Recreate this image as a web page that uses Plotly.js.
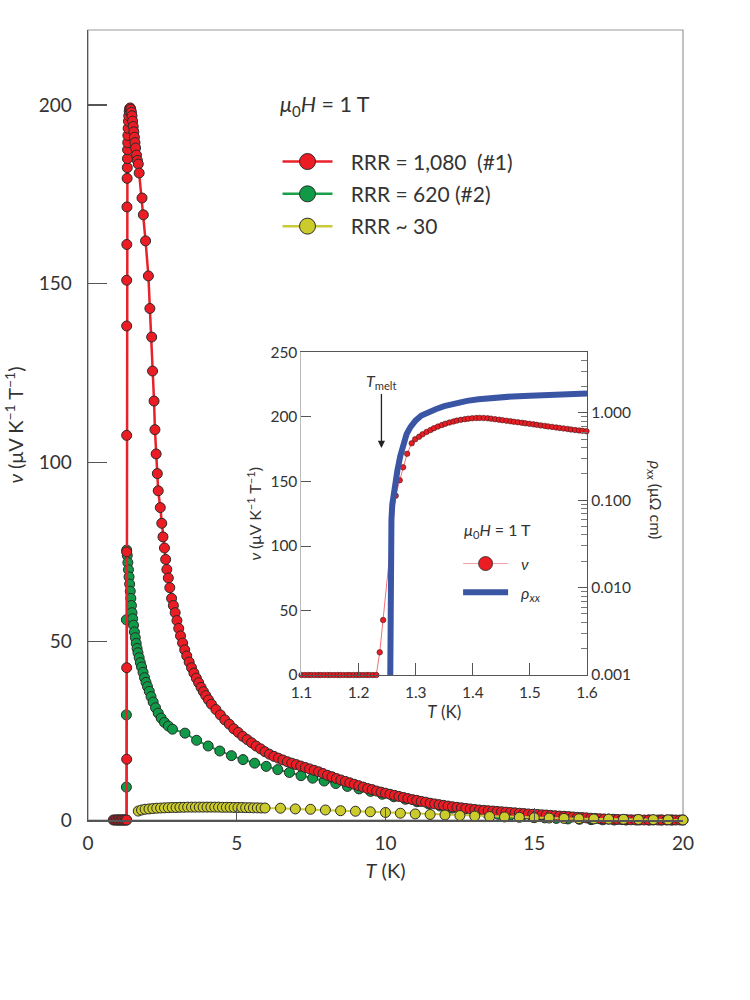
<!DOCTYPE html>
<html>
<head>
<meta charset="utf-8">
<script src="https://cdn.plot.ly/plotly-3.0.1.min.js"></script>
<style>html,body{margin:0;padding:0;background:#fff;}#chart{width:750px;height:1000px;}</style>
</head>
<body>
<div id="chart"></div>
<script>
// ---------- main panel: RRR = 1,080 (#1) ----------
const redT = [0.85,0.90,0.95,1.00,1.05,1.10,1.15,1.20,1.25,1.30,
  1.30,1.30,1.30,1.30,1.30,1.30,
  1.305,1.31,1.315,1.32,1.325,1.33,1.335,1.34,1.35,1.36,1.37,1.385,1.40,1.42,1.44,1.46,1.48,1.50,1.52,1.54,1.56,1.58,1.60,1.63,1.66,1.69,1.72,1.815,1.86,1.935,
  2.03,2.08,2.14,2.17,2.22,2.25,2.29,2.33,2.36,2.43,2.48,2.52,2.57,2.61,2.65,2.70,2.75,2.81,2.87,2.93,2.99,3.05,3.11,3.18,3.25,3.32,3.40,3.48,3.56,3.64,3.72,3.80,3.88,3.96,4.05,4.15,4.30,
  4.45,4.60,4.75,4.90,5.05,5.20,5.35,5.50,5.65,5.80,
  5.95,6.10,6.25,6.40,6.55,6.70,6.85,7.00,7.15,7.30,
  7.45,7.60,7.75,7.90,8.05,8.20,8.35,8.50,8.65,8.80,
  8.95,9.10,9.25,9.40,9.55,9.70,9.85,10.00,10.15,10.30,
  10.45,10.60,10.75,10.90,11.05,11.20,11.35,11.50,11.65,11.80,
  11.95,12.10,12.25,12.40,12.55,12.70,12.85,13.00,13.15,13.30,
  13.45,13.60,13.75,13.90,14.05,14.20,14.35,14.50,14.65,14.80,
  14.95,15.10,15.25,15.40,15.55,15.70,15.85,16.00,16.15,16.30,
  16.45,16.60,16.75,16.90,17.05,17.20,17.35,17.50,17.65,17.80,
  17.95,18.10,18.25,18.40,18.55,18.70,18.85,19.00,19.15,19.30,
  19.45,19.60,19.75,19.90,20.00];
const redV = [0,0,0,0,0,0,0,0,0,0,
  17,42.6,75,107.6,138.2,151,
  161,171.5,179.5,182.5,185,187.5,189.5,191.5,193.5,195.5,197,198.3,199,199.2,198.8,198,197,195.5,194,192.5,191,189.5,188,186,184.5,183.5,181,174,169.3,162,
  152.2,143.1,135.1,125.6,117.2,109.2,102.4,96.9,92.1,87.4,83,79.2,76.1,72.9,70.1,67.7,65,62,60,58,55.8,53.6,51.5,49.5,47.6,45.9,44.2,42.6,41.1,39.7,38.4,37.1,35.9,34.8,33.6,32.4,30.9,
  29.4,28.0,26.8,25.5,24.5,23.4,22.5,21.6,20.7,19.9,
  19.1,18.4,17.8,17.3,16.8,16.3,15.9,15.5,15.1,14.7,
  14.3,13.9,13.5,13.0,12.5,12.1,11.6,11.2,10.8,10.4,
  10.0,9.6,9.2,8.8,8.5,8.1,7.8,7.5,7.2,6.9,
  6.6,6.3,6.0,5.7,5.5,5.2,5.0,4.7,4.5,4.3,
  4.1,3.9,3.7,3.55,3.4,3.25,3.1,2.95,2.8,2.7,
  2.6,2.5,2.4,2.3,2.2,2.1,2.0,1.9,1.8,1.7,
  1.6,1.55,1.45,1.4,1.3,1.2,1.1,1.05,0.95,0.85,
  0.75,0.7,0.6,0.5,0.45,0.35,0.3,0.25,0.2,0.15,
  0.1,0.08,0.05,0.03,0.02,0,0,0,0,0,
  0,0,0,0,0];

// ---------- main panel: RRR = 620 (#2) ----------
const greenT = [1.00,1.10,1.20,1.29,1.29,1.29,1.29,1.30,
  1.32,1.34,1.36,1.38,1.40,1.42,1.44,1.46,1.48,1.50,
  1.53,1.56,1.59,1.62,1.65,1.68,1.72,1.76,1.80,1.85,1.90,1.95,2.00,
  2.06,2.12,2.19,2.27,2.36,2.46,2.57,2.70,2.84,
  3.26,3.65,4.04,4.43,4.82,5.21,5.60,5.99,6.38,6.77,
  7.16,7.55,7.94,8.33,8.72,9.11,9.50,9.89,10.28,10.67,
  11.06,11.45,11.84,12.23,12.62,13.01,13.40,13.79,14.18,14.57,
  14.96,15.35,15.74,16.13,16.52,16.91,17.30,17.69,18.08,18.47,
  18.86,19.25,19.64];
const greenV = [0,0,0,0,9.2,29.4,56,75.5,
  74,72,70,68,66,64,62,60,58,56.3,
  54.5,52.6,51,49.4,48,46.8,45.4,44,42.8,41.3,39.8,38.5,37.3,
  36,34.5,33,31.4,29.9,28.5,27.3,26.3,25.4,
  24.3,22.3,20.7,19.3,18.0,16.9,15.9,15.0,14.1,13.3,
  12.4,11.7,10.9,10.2,9.4,8.7,8.0,7.2,6.5,5.8,
  5.1,4.5,3.9,3.3,2.8,2.3,1.9,1.6,1.3,1.05,
  0.8,0.6,0.45,0.3,0.2,0.1,0.05,0,0,0,
  0,0,0];

// ---------- main panel: RRR ~ 30 ----------
const yellowT = [1.69,1.80,1.92,
  2.05,2.18,2.31,2.44,2.57,2.70,2.83,2.96,3.09,3.22,
  3.35,3.48,3.61,3.74,3.87,4.00,4.13,4.26,4.39,4.52,
  4.65,4.78,4.91,5.04,5.17,5.30,5.43,5.56,5.69,5.82,5.95,
  6.47,6.97,7.48,7.98,8.49,8.99,9.49,
  10.0,10.5,11.0,11.5,12.0,12.5,13.0,13.5,14.0,14.5,15.0,15.5,16.0,16.5,17.0,17.5,18.0,18.5,19.0,19.5,20.0];
const yellowV = [2.5,2.8,3.0,
  3.1,3.2,3.3,3.35,3.4,3.45,3.5,3.5,3.55,3.55,
  3.6,3.6,3.6,3.6,3.6,3.6,3.6,3.6,3.6,3.55,
  3.55,3.55,3.5,3.5,3.5,3.45,3.45,3.4,3.4,3.35,3.35,
  3.3,3.1,3.0,2.8,2.6,2.45,2.3,
  2.1,1.9,1.7,1.55,1.4,1.25,1.1,0.95,0.85,0.75,0.65,0.55,0.45,0.35,0.3,0.25,0.2,0.15,0.1,0.05,0.0];

// ---------- inset: nu (#1) ----------
const insetT = [1.100,1.106,1.112,1.117,1.123,1.129,1.134,1.140,1.146,1.151,1.157,1.163,1.168,1.174,1.180,1.185,1.191,1.197,1.202,1.208,1.214,1.219,1.225,1.231,
  1.237,1.243,1.265,1.272,1.278,1.285,1.293,
  1.299,1.306,1.312,1.319,1.326,1.332,1.339,1.346,1.352,1.359,
  1.366,1.372,1.379,1.386,1.392,1.399,1.406,1.412,1.419,1.426,
  1.432,1.439,1.446,1.452,1.459,1.466,1.472,1.479,1.486,1.492,
  1.499,1.506,1.512,1.519,1.526,1.532,1.539,1.546,1.552,1.559,
  1.566,1.572,1.579,1.586,1.592,1.599];
const insetNu = [0,0,0,0,0,0,0,0,0,0,0,0,0,0,0,0,0,0,0,0,0,0,0,0,
  17.6,42.6,139,151,161,171.5,179.6,
  182.7,184.7,186.6,188.4,189.9,191.3,192.6,193.8,194.8,195.7,
  196.5,197.2,197.8,198.3,198.7,199.0,199.2,199.3,199.2,199.0,
  198.7,198.3,197.9,197.5,197.1,196.7,196.3,195.9,195.5,195.1,
  194.7,194.3,193.9,193.5,193.1,192.7,192.3,191.9,191.5,191.1,
  190.7,190.3,189.9,189.6,189.3,189.0];

// ---------- inset: rho_xx ----------
const rhoT = [1.2555,1.2555,1.256,1.2565,1.2575,1.259,1.261,1.264,1.268,1.273,1.278,1.284,1.291,1.300,1.310,1.320,1.335,1.350,1.370,1.390,1.410,1.440,1.470,1.500,1.550,1.600];
const rhoV = [0.001,0.002,0.01,0.03,0.06,0.09,0.115,0.15,0.22,0.32,0.45,0.57,0.69,0.82,0.93,1.01,1.10,1.19,1.29,1.37,1.43,1.50,1.54,1.57,1.62,1.66];

// ---------- tick labels ----------
const mainXTicks = [0,5,10,15,20];
const mainYTicks = [0,50,100,150,200];
const insetXTicks = [1.1,1.2,1.3,1.4,1.5,1.6];
const insetXLabels = ['1.1','1.2','1.3','1.4','1.5','1.6'];
const insetYTicks = [0,50,100,150,200,250];
const rhoTicks = [0.001,0.01,0.1,1];
const rhoLabels = ['0.001','0.010','0.100','1.000'];
const rhoMinor = [0.002,0.003,0.004,0.005,0.006,0.007,0.008,0.009,0.02,0.03,0.04,0.05,0.06,0.07,0.08,0.09,0.2,0.3,0.4,0.5,0.6,0.7,0.8,0.9,2,3,4];
const GAP = '\u2002\u2009';
const seriesNames = ['RRR = 1,080\u2002(#1)','RRR = 620 (#2)','RRR ~ 30'];
const insetNames = ['<i>ν</i>','<i>ρ</i><sub><i>xx</i></sub>'];

const FONT = 'Lato, "Open Sans", "DejaVu Sans", sans-serif';
const RED = '#ec1c24', REDLINE = '#e8222a';
const GREEN = '#109a48', GREENLINE = '#1b9d4b';
const YEL = '#cbcb2c', YELLINE = '#c9c93a';
const BLUE = '#3b55a5';
const EDGE = '#2a2a2a';

function mainTrace(x, y, fill, lc, lw) {
  return {x: x, y: y, type: 'scatter', mode: 'lines+markers', xaxis: 'x', yaxis: 'y',
    cliponaxis: false, showlegend: false, hoverinfo: 'skip',
    line: {color: lc, width: lw},
    marker: {size: 10, color: fill, line: {color: EDGE, width: 1}}};
}
function proxy(name, fill, lc, grp) {
  return {x: [null], y: [null], type: 'scatter', mode: 'lines+markers', name: GAP + name,
    legend: 'legend', legendgroup: grp, xaxis: 'x', yaxis: 'y',
    line: {color: lc, width: 2.5}, marker: {size: 16, color: fill, line: {color: EDGE, width: 1}}};
}

const data = [
  mainTrace(greenT, greenV, GREEN, GREENLINE, 2),
  mainTrace(redT, redV, RED, REDLINE, 2.5),
  mainTrace(yellowT, yellowV, YEL, YELLINE, 2),
  {x: insetT, y: insetNu, type: 'scatter', mode: 'lines+markers', xaxis: 'x2', yaxis: 'y2',
    cliponaxis: false, showlegend: false, hoverinfo: 'skip',
    line: {color: '#f0606a', width: 0.9},
    marker: {size: 5.5, color: RED, line: {color: '#3a1a1a', width: 0.6}}},
  {x: rhoT, y: rhoV, type: 'scatter', mode: 'lines', xaxis: 'x2', yaxis: 'y3',
    showlegend: false, hoverinfo: 'skip', line: {color: BLUE, width: 6}},
  proxy(seriesNames[0], RED, REDLINE, 'a'),
  proxy(seriesNames[1], GREEN, GREENLINE, 'b'),
  proxy(seriesNames[2], YEL, YELLINE, 'c'),
  {x: [null], y: [null], type: 'scatter', mode: 'lines+markers', name: '\u2002' + insetNames[0],
    legend: 'legend2', legendgroup: 'd', xaxis: 'x2', yaxis: 'y2',
    line: {color: '#f4a0a4', width: 1}, marker: {size: 14, color: RED, line: {color: EDGE, width: 0.8}}},
  {x: [null], y: [null], type: 'scatter', mode: 'lines', name: '\u2002' + insetNames[1],
    legend: 'legend2', legendgroup: 'e', xaxis: 'x2', yaxis: 'y3',
    line: {color: BLUE, width: 6}}
];

const axisCommon = {showgrid: false, zeroline: false, showline: true, ticks: 'inside', tickcolor: '#555'};

const layout = {
  width: 750, height: 1000,
  margin: {l: 88, r: 67, t: 30, b: 180},
  paper_bgcolor: '#ffffff', plot_bgcolor: 'rgba(0,0,0,0)',
  font: {family: FONT, color: '#333', size: 18},
  showlegend: true,
  xaxis: Object.assign({}, axisCommon, {domain: [0, 1], anchor: 'y', range: [0, 20],
    tickvals: mainXTicks, ticklen: 12, tickwidth: 1.2, linecolor: '#555', linewidth: 1.5,
    tickfont: {size: 19}, ticklabelstandoff: 6,
    title: {text: '<i>T</i> (K)', font: {size: 20}, standoff: 10}}),
  yaxis: Object.assign({}, axisCommon, {domain: [0, 1], anchor: 'x', range: [0, 221],
    tickvals: mainYTicks, ticklen: 19, tickwidth: 1.2, linecolor: '#555', linewidth: 1.5,
    tickfont: {size: 19}, ticklabelstandoff: 11,
    title: {text: '<i>ν</i> (μV K<sup>−1</sup> T<sup>−1</sup>)', font: {size: 20}, standoff: 9}}),
  xaxis2: Object.assign({}, axisCommon, {domain: [0.3588, 0.8387], anchor: 'y2', range: [1.1, 1.6],
    tickvals: insetXTicks, ticktext: insetXLabels, ticklen: 12, tickwidth: 1, linecolor: '#555', linewidth: 1.2,
    mirror: true, tickfont: {size: 15.5}, ticklabelstandoff: 3,
    title: {text: '<i>T</i> (K)', font: {size: 17}, standoff: 6}}),
  yaxis2: Object.assign({}, axisCommon, {domain: [0.1835, 0.5918], anchor: 'x2', range: [0, 250],
    tickvals: insetYTicks, ticklen: 10, tickwidth: 1, linecolor: '#bbbbbb', linewidth: 1,
    tickfont: {size: 15.5},
    title: {text: '<i>ν</i> (μV K<sup>−1</sup> T<sup>−1</sup>)', font: {size: 16}, standoff: 4}}),
  yaxis3: Object.assign({}, axisCommon, {overlaying: 'y2', anchor: 'x2', side: 'right', type: 'log',
    range: [-3, 0.69], tickvals: rhoTicks, ticktext: rhoLabels, ticklen: 9, tickwidth: 1,
    linecolor: '#555', linewidth: 1.2, tickfont: {size: 15.5},
    minor: {tickvals: rhoMinor, ticks: 'inside', ticklen: 6, tickcolor: '#777', tickwidth: 1, showgrid: false}}),
  legend: {x: 0.3185, y: 0.859, xanchor: 'left', yanchor: 'top', bgcolor: 'rgba(0,0,0,0)',
    font: {size: 21, color: '#333'}, itemwidth: 50, tracegroupgap: 2, itemclick: false},
  legend2: {x: 0.622, y: 0.346, xanchor: 'left', yanchor: 'top', bgcolor: 'rgba(0,0,0,0)',
    font: {size: 16, color: '#333'}, itemwidth: 45, tracegroupgap: 5, itemclick: false},
  shapes: [
    {type: 'rect', xref: 'paper', yref: 'paper', x0: 0, x1: 1, y0: 0, y1: 1,
      line: {color: '#9a9a9a', width: 1.2}, layer: 'below'}
  ],
  annotations: [
    {xref: 'paper', yref: 'paper', x: 0.319, y: 0.905, xanchor: 'left', yanchor: 'middle', showarrow: false,
      text: '<i>μ</i><sub>0</sub><i>H</i> = 1 T', font: {size: 21.5, color: '#333'}},
    {xref: 'paper', yref: 'paper', x: 0.6286, y: 0.367, xanchor: 'left', yanchor: 'middle', showarrow: false,
      text: '<i>μ</i><sub>0</sub><i>H</i> = 1 T', font: {size: 16, color: '#333'}},
    {xref: 'paper', yref: 'paper', x: 0.955, y: 0.405, xanchor: 'center', yanchor: 'middle', showarrow: false,
      textangle: 90, text: '<i>ρ</i><sub><i>xx</i></sub> (μΩ cm)', font: {size: 16, color: '#333'}},
    {xref: 'x2', yref: 'y2', x: 1.24, y: 176, showarrow: true, ax: 0, ay: -66,
      arrowhead: 2, arrowsize: 1.1, arrowwidth: 1.3, arrowcolor: '#222',
      text: '<i>T</i><sub>melt</sub>', font: {size: 16, color: '#333'}}
  ]
};

Plotly.newPlot('chart', data, layout, {displayModeBar: false, staticPlot: true});
</script>
</body>
</html>
